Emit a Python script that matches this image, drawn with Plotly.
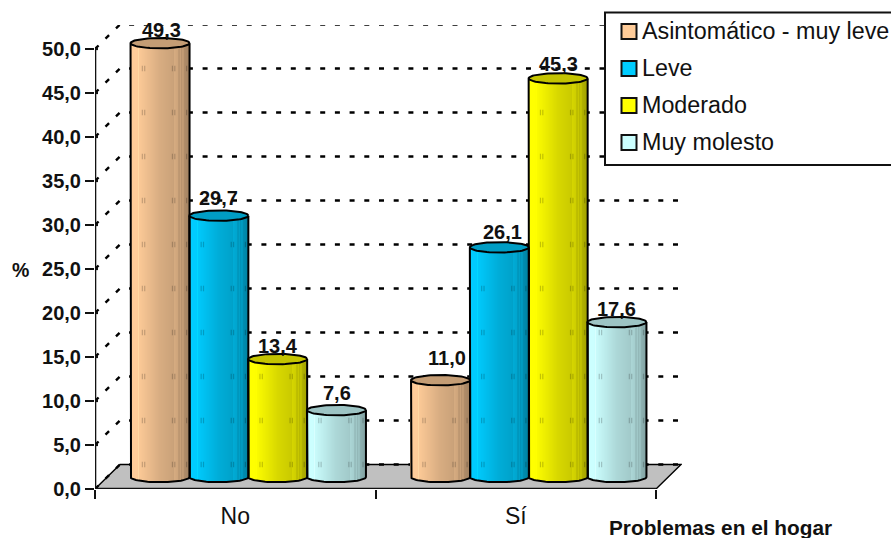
import numpy as np
import plotly.graph_objects as go

# ---- data ----
groups = ["No", "Sí"]
series_names = ["Asintomático - muy leve", "Leve", "Moderado", "Muy molesto"]
asintomatico = [49.3, 11.0]
leve = [29.7, 26.1]
moderado = [13.4, 45.3]
muy_molesto = [7.6, 17.6]
series_values = [asintomatico, leve, moderado, muy_molesto]
series_colors = [(255, 204, 153), (0, 204, 255), (255, 255, 0), (204, 255, 255)]
y_ticks = [0, 5, 10, 15, 20, 25, 30, 35, 40, 45, 50]
y_tick_labels = ["0,0", "5,0", "10,0", "15,0", "20,0", "25,0", "30,0", "35,0", "40,0", "45,0", "50,0"]

# ---- geometry (pixels of the page) ----
W, H = 891, 538
L, R, T, B = 95, 682, 25, 489
PX_X = 280.5          # px per category slot
PX_Y = 8.8            # px per value unit
dx = 25 / PX_X        # depth of the box
dy = 24.5 / PX_Y
rx = 29.5 / PX_X      # cylinder radii
ry = 5.2 / PX_Y
base0 = 12 / PX_Y     # cylinder foot sits on floor
col_step = 58.8 / PX_X
group_center = 0.5 + 13 / PX_X
FONT = "Liberation Sans"

def X(px):
    return (px - L) / (R - L)
def Y(px):
    return (B - px) / (B - T)

def shade(c, t):
    f = np.interp(t, [0, .12, .3, .5, .72, .85, 1], [1, 1.0, .93, .85, .8, .74, .64])
    # faint lighter pin-stripes as in the original rendering
    s = 1.0
    for st in (.14, .76, .80, .86, .90):
        if abs(t - st) < .012:
            s = 1.07
    return "rgb(%d,%d,%d)" % tuple(min(255, int(v * f * s)) for v in c)

fig = go.Figure()
xmax = 2.0
shapes = []

# floor and back gridlines stay under the cylinders
shapes.append(dict(type="path", layer="below", fillcolor="#C0C0C0", line=dict(color="black", width=1.4),
                   path=f"M 0,0 L {dx},{dy} L {xmax + dx},{dy} L {xmax},0 Z"))
for v in y_ticks:
    shapes.append(dict(type="path", layer="below", line=dict(color="black", width=2.4, dash="5px,9.7px"),
                       path=f"M 0,{v} L {dx},{v + dy} L {xmax + dx},{v + dy}"))

# axis lines
fig.add_trace(go.Scatter(x=[0, 0, None, 0, xmax], y=[0, 50, None, 0, 0], mode="lines",
                         hoverinfo="skip", showlegend=False, line=dict(color="#111", width=2.6)))
# tick stubs inside the axis
tx, ty = [], []
for v in y_ticks:
    tx += [0, 3 / PX_X, None]
    ty += [v, v, None]
fig.add_trace(go.Scatter(x=tx, y=ty, mode="lines", hoverinfo="skip", showlegend=False,
                         line=dict(color="#111", width=2.2)))

# cylinders
slice_t = (np.arange(59) + .5) / 59
mark_t = [.2, .24, .71, .75, .95]
for si, (name, vals, col) in enumerate(zip(series_names, series_values, series_colors)):
    for gi, val in enumerate(vals):
        cx = gi + group_center + (si - 1.5) * col_step
        u = 2 * slice_t - 1
        depth = ry * np.sqrt(1 - u ** 2)
        top = val + base0
        fig.add_trace(go.Bar(
            x=cx + u * rx, y=val + depth, base=base0 - depth, width=1.3 / PX_X,
            marker=dict(color=[shade(col, t) for t in slice_t], line=dict(width=0)),
            name=name, showlegend=False, hovertemplate=f"{groups[gi]}: {val}<extra>{name}</extra>"))
        # faint traces of the gridlines showing through the cylinder
        mx, my = [], []
        for v in y_ticks:
            if v + dy < top - ry:
                for t in mark_t:
                    mx.append(cx + (2 * t - 1) * rx)
                    my.append(v + dy)
        fig.add_trace(go.Scatter(x=mx, y=my, mode="markers", hoverinfo="skip", showlegend=False,
                                 marker=dict(symbol="line-ns", size=4, line=dict(width=1.2, color="rgba(0,0,0,0.2)"))))
        a = np.linspace(0, 2 * np.pi, 73)
        # top ellipse
        fig.add_trace(go.Scatter(
            x=cx + rx * np.cos(a), y=top + ry * np.sin(a), mode="lines", fill="toself",
            fillcolor="rgb(%d,%d,%d)" % tuple(int(c * .77) for c in col),
            line=dict(color="black", width=2), hoverinfo="skip", showlegend=False))
        # outline: sides and front foot
        a2 = np.linspace(np.pi, 2 * np.pi, 37)
        ox = np.concatenate([[cx - rx], cx + rx * np.cos(a2), [cx + rx]])
        oy = np.concatenate([[top], base0 + ry * np.sin(a2), [top]])
        fig.add_trace(go.Scatter(x=ox, y=oy, mode="lines", hoverinfo="skip", showlegend=False,
                                 line=dict(color="black", width=2)))

# value labels: nudges per label so they sit as in the original
label_lift = [[13, 22], [18, 15], [13, 14], [17, 13]]
label_nudge = [[1.5, 6.5], [0, 3.5], [0, 0], [1, 0]]
for si, vals in enumerate(series_values):
    for gi, val in enumerate(vals):
        cx = gi + group_center + (si - 1.5) * col_step
        fig.add_annotation(x=cx, y=val + base0, text=f"<b>{val:.1f}</b>".replace(".", ","), showarrow=False,
                           xanchor="center", yanchor="middle", yshift=label_lift[si][gi], xshift=label_nudge[si][gi],
                           font=dict(family=FONT, size=20, color="#111"))

# axis titles
fig.add_annotation(xref="paper", yref="paper", x=X(20), y=Y(270), xanchor="center", yanchor="middle", text="<b>%</b>",
                   showarrow=False, font=dict(family=FONT, size=19.5, color="#111"))
fig.add_annotation(xref="paper", yref="paper", x=X(607), y=Y(527), xanchor="left", yanchor="middle",
                   text="<b>Problemas en el hogar</b>", showarrow=False, font=dict(family=FONT, size=20.8, color="#111"))

# legend box (runs off the right edge as in the original)
shapes.append(dict(type="rect", xref="paper", yref="paper", x0=X(605), x1=X(895), y0=Y(12.5), y1=Y(165),
                   fillcolor="white", line=dict(color="#111", width=2), layer="above"))
for i, (name, col) in enumerate(zip(series_names, series_colors)):
    yc = 31 + i * 37
    shapes.append(dict(type="rect", xref="paper", yref="paper", x0=X(621.5), x1=X(636.5), y0=Y(yc - 7), y1=Y(yc + 8),
                       fillcolor="rgb(%d,%d,%d)" % col, line=dict(color="#111", width=2), layer="above"))
    fig.add_annotation(xref="paper", yref="paper", x=X(640), y=Y(yc), xanchor="left", yanchor="middle", text=name,
                       showarrow=False, font=dict(family=FONT, size=23.3, color="#111"))

fig.update_layout(
    width=W, height=H, margin=dict(l=L, r=W - R, t=T, b=H - B, pad=0, autoexpand=False),
    paper_bgcolor="white", plot_bgcolor="white", barmode="overlay", bargap=0, showlegend=False,
    shapes=shapes, font=dict(family=FONT, color="#111"),
    xaxis=dict(range=[0, (R - L) / PX_X], tickmode="array", tickvals=[0.5, 1.5], ticktext=groups, ticks="",
               showgrid=False, zeroline=False, showline=False, tickfont=dict(family=FONT, size=23, color="#111"),
               minor=dict(tickmode="array", tickvals=[0, 1, 2], ticks="outside", ticklen=9, tickwidth=2, tickcolor="#111", showgrid=False),
               ticklabelstandoff=11),
    yaxis=dict(range=[0, (B - T) / PX_Y], tickmode="array", tickvals=y_ticks,
               ticktext=[f"<b>{t}</b>" for t in y_tick_labels], ticks="outside",
               ticklen=9, tickwidth=2.2, tickcolor="#111", showgrid=False, zeroline=False, showline=False,
               tickfont=dict(family=FONT, size=20, color="#111"), ticklabelstandoff=0, automargin=False),
)
fig.write_html("out.html", config={"displayModeBar": False},
               post_script="document.body.style.margin='0';document.body.style.overflow='hidden';")
